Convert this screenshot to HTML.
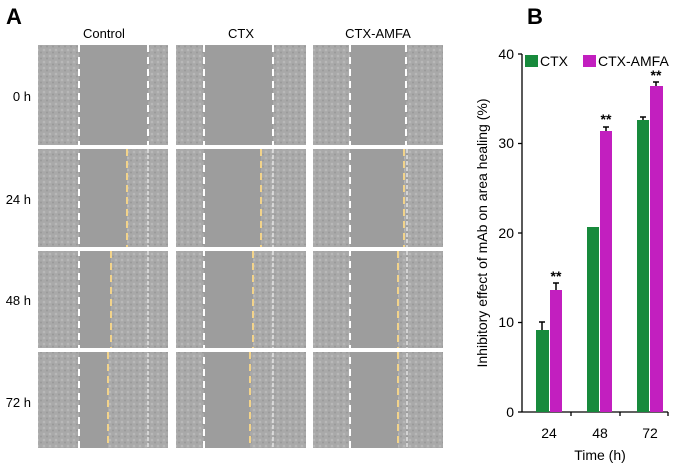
<!DOCTYPE html><html><head><style>body{margin:0;background:#fff;width:678px;height:466px;overflow:hidden;font-family:"Liberation Sans",sans-serif}</style></head><body>
<svg width="678" height="466" xmlns="http://www.w3.org/2000/svg" font-family="Liberation Sans, sans-serif">
<defs><pattern id="tex" width="6" height="6" patternUnits="userSpaceOnUse"><rect width="6" height="6" fill="#a9a9a9"/><circle cx="2" cy="2" r="1.3" fill="#b8b8b8"/><circle cx="5" cy="4.5" r="1" fill="#999"/></pattern></defs>
<text x="6" y="24" font-size="22" font-weight="bold">A</text>
<text x="104" y="38" font-size="13" text-anchor="middle">Control</text>
<text x="241" y="38" font-size="13" text-anchor="middle">CTX</text>
<text x="378" y="38" font-size="13" text-anchor="middle">CTX-AMFA</text>
<g font-size="13" text-anchor="end"><text x="31" y="101">0 h</text><text x="31" y="204">24 h</text><text x="31" y="305">48 h</text><text x="31" y="407">72 h</text></g>

<g>
<rect x="38" y="45" width="130" height="403" fill="url(#tex)"/>
<rect x="176" y="45" width="130" height="403" fill="url(#tex)"/>
<rect x="313" y="45" width="130" height="403" fill="url(#tex)"/>
<!-- gaps -->
<g fill="#9d9d9d">
<rect x="79" y="45" width="69" height="100"/><rect x="79" y="149" width="48" height="98"/><rect x="79" y="251" width="32" height="97"/><rect x="79" y="352" width="29" height="96"/>
<rect x="204" y="45" width="69" height="100"/><rect x="204" y="149" width="57" height="98"/><rect x="204" y="251" width="49" height="97"/><rect x="204" y="352" width="46" height="96"/>
<rect x="350" y="45" width="56" height="100"/><rect x="350" y="149" width="54" height="98"/><rect x="350" y="251" width="48" height="97"/><rect x="350" y="352" width="48" height="96"/>
</g>
<g stroke="#fff" stroke-width="2" stroke-dasharray="7,5">
<line x1="79" y1="45" x2="79" y2="448"/><line x1="204" y1="45" x2="204" y2="448"/><line x1="350" y1="45" x2="350" y2="448"/>
<line x1="148" y1="45" x2="148" y2="145"/><line x1="273" y1="45" x2="273" y2="145"/><line x1="406" y1="45" x2="406" y2="145"/>
</g>
<g stroke="#fff" stroke-width="1" stroke-dasharray="4,2">
<line x1="148" y1="149" x2="148" y2="448"/><line x1="273" y1="149" x2="273" y2="448"/><line x1="407" y1="149" x2="407" y2="448"/>
</g>
<g stroke="#f2d38a" stroke-width="2" stroke-dasharray="7,5">
<line x1="127" y1="149" x2="127" y2="247"/><line x1="111" y1="251" x2="111" y2="348"/><line x1="108" y1="352" x2="108" y2="448"/>
<line x1="261" y1="149" x2="261" y2="247"/><line x1="253" y1="251" x2="253" y2="348"/><line x1="250" y1="352" x2="250" y2="448"/>
<line x1="404" y1="149" x2="404" y2="247"/><line x1="398" y1="251" x2="398" y2="348"/><line x1="398" y1="352" x2="398" y2="448"/>
</g>
<g fill="#fff"><rect x="38" y="145" width="405" height="4"/><rect x="38" y="247" width="405" height="4"/><rect x="38" y="348" width="405" height="4"/></g>
</g>

<text x="527" y="24" font-size="22" font-weight="bold">B</text>
<g stroke="#000" stroke-width="1.3"><line x1="522" y1="54" x2="522" y2="412"/><line x1="522" y1="412" x2="668" y2="412"/>
<line x1="518" y1="54" x2="522" y2="54"/><line x1="518" y1="143.5" x2="522" y2="143.5"/><line x1="518" y1="233" x2="522" y2="233"/><line x1="518" y1="322.5" x2="522" y2="322.5"/><line x1="518" y1="412" x2="522" y2="412"/>
<line x1="571" y1="412" x2="571" y2="416"/><line x1="620" y1="412" x2="620" y2="416"/><line x1="668" y1="412" x2="668" y2="416"/></g>
<g font-size="14" text-anchor="end"><text x="514" y="59">40</text><text x="514" y="148">30</text><text x="514" y="238">20</text><text x="514" y="327">10</text><text x="514" y="417">0</text></g>
<g font-size="14" text-anchor="middle"><text x="549" y="438">24</text><text x="600" y="438">48</text><text x="650" y="438">72</text></g>
<text x="600" y="460" font-size="14" text-anchor="middle">Time (h)</text>
<text transform="translate(487,233) rotate(-90)" font-size="14" text-anchor="middle">Inhibitory effect of mAb on area healing  (%)</text>
<g fill="#178a3c"><rect x="536" y="330" width="13" height="82"/><rect x="587" y="227" width="12" height="185"/><rect x="637" y="120" width="12" height="292"/></g>
<g fill="#c21fbf"><rect x="550" y="290" width="12" height="122"/><rect x="600" y="131" width="12" height="281"/><rect x="650" y="86" width="13" height="326"/></g>
<g stroke="#000" stroke-width="1.5"><line x1="542" y1="330" x2="542" y2="322"/><line x1="539" y1="322" x2="545" y2="322"/>
<line x1="556" y1="290" x2="556" y2="283"/><line x1="553" y1="283" x2="559" y2="283"/>
<line x1="606" y1="131" x2="606" y2="127"/><line x1="603" y1="127" x2="609" y2="127"/>
<line x1="643" y1="120" x2="643" y2="117"/><line x1="640" y1="117" x2="646" y2="117"/>
<line x1="656" y1="86" x2="656" y2="82"/><line x1="653" y1="82" x2="659" y2="82"/></g>
<g font-size="14" font-weight="bold" text-anchor="middle"><text x="556" y="281">**</text><text x="606" y="124">**</text><text x="656" y="80">**</text></g>
<rect x="525" y="55" width="13" height="12" fill="#178a3c"/><text x="540" y="66" font-size="14">CTX</text>
<rect x="583" y="55" width="13" height="12" fill="#c21fbf"/><text x="598" y="66" font-size="14">CTX-AMFA</text>
</svg></body></html>
